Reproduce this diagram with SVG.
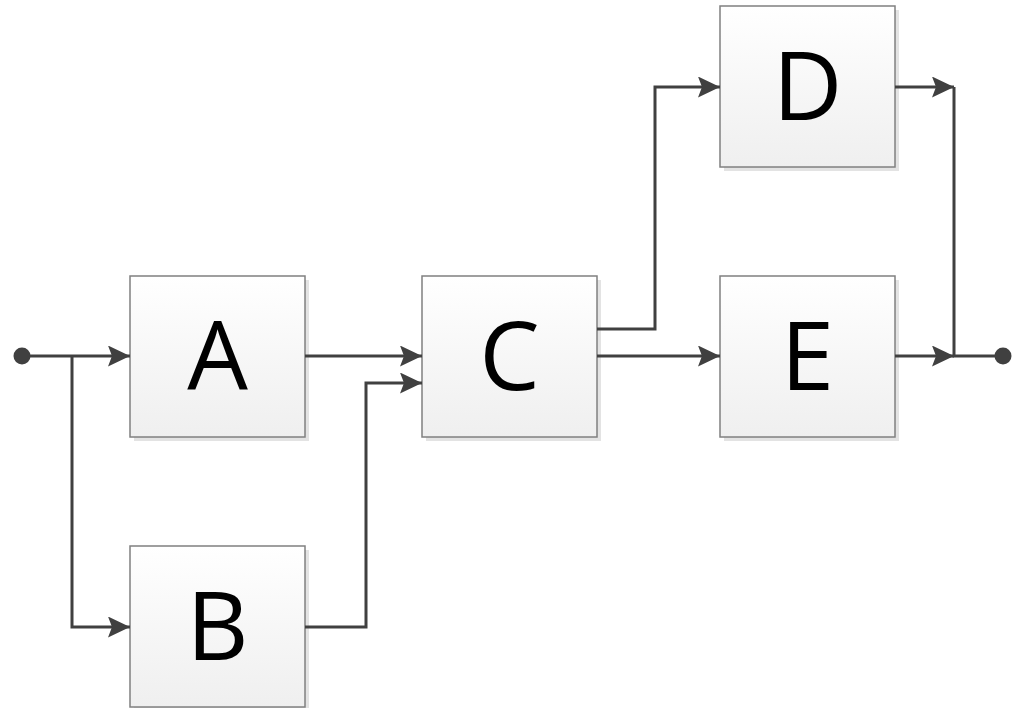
<svg xmlns="http://www.w3.org/2000/svg" width="1014" height="708" viewBox="0 0 1014 708">
<defs>
<linearGradient id="fill" x1="0" y1="0" x2="0" y2="1">
<stop offset="0" stop-color="#ffffff"/>
<stop offset="1" stop-color="#efefef"/>
</linearGradient>
<marker id="arr" markerUnits="userSpaceOnUse" markerWidth="24" markerHeight="22" refX="22" refY="10.5" orient="auto">
<path d="M0,0 L22,10.5 L0,21 L4,10.5 Z" fill="#404040"/>
</marker>
</defs>
<style>
.shadow{fill:#e3e3e3;}
.box{fill:url(#fill);stroke:#808080;stroke-width:1.5;}
.lbl{font-family:"Open Sans","Liberation Sans",sans-serif;font-size:96px;fill:#000;text-anchor:middle;}
.wire{fill:none;stroke:#404040;stroke-width:3;}
.dot{fill:#404040;}
</style>
<rect width="1014" height="708" fill="#ffffff"/>
<g id="A">
<rect class="shadow" x="134" y="280" width="175" height="161"/>
<rect class="box" x="130" y="276" width="175" height="161"/>
<text class="lbl" x="217.5" y="390">A</text>
</g>
<g id="B">
<rect class="shadow" x="134" y="550" width="175" height="161"/>
<rect class="box" x="130" y="546" width="175" height="161"/>
<text class="lbl" x="217.5" y="660">B</text>
</g>
<g id="C">
<rect class="shadow" x="426" y="280" width="175" height="161"/>
<rect class="box" x="422" y="276" width="175" height="161"/>
<text class="lbl" x="509.5" y="390">C</text>
</g>
<g id="D">
<rect class="shadow" x="724" y="10" width="175" height="161"/>
<rect class="box" x="720" y="6" width="175" height="161"/>
<text class="lbl" x="807.5" y="120">D</text>
</g>
<g id="E">
<rect class="shadow" x="724" y="280" width="175" height="161"/>
<rect class="box" x="720" y="276" width="175" height="161"/>
<text class="lbl" x="807.5" y="390">E</text>
</g>
<g id="connectors">
<circle class="dot" cx="22" cy="356" r="8.5"/>
<path class="wire" d="M22,356 H130" marker-end="url(#arr)"/>
<path class="wire" d="M72,356 V627 H130" marker-end="url(#arr)"/>
<path class="wire" d="M305,356 H422" marker-end="url(#arr)"/>
<path class="wire" d="M305,627 H366 V383 H422" marker-end="url(#arr)"/>
<path class="wire" d="M597,329 H655 V87 H720" marker-end="url(#arr)"/>
<path class="wire" d="M597,356 H720" marker-end="url(#arr)"/>
<path class="wire" d="M895,87 H954" marker-end="url(#arr)"/>
<path class="wire" d="M895,356 H954" marker-end="url(#arr)"/>
<path class="wire" d="M954,87 V356 H1003"/>
<circle class="dot" cx="1003" cy="356" r="8.5"/>
</g>
</svg>
